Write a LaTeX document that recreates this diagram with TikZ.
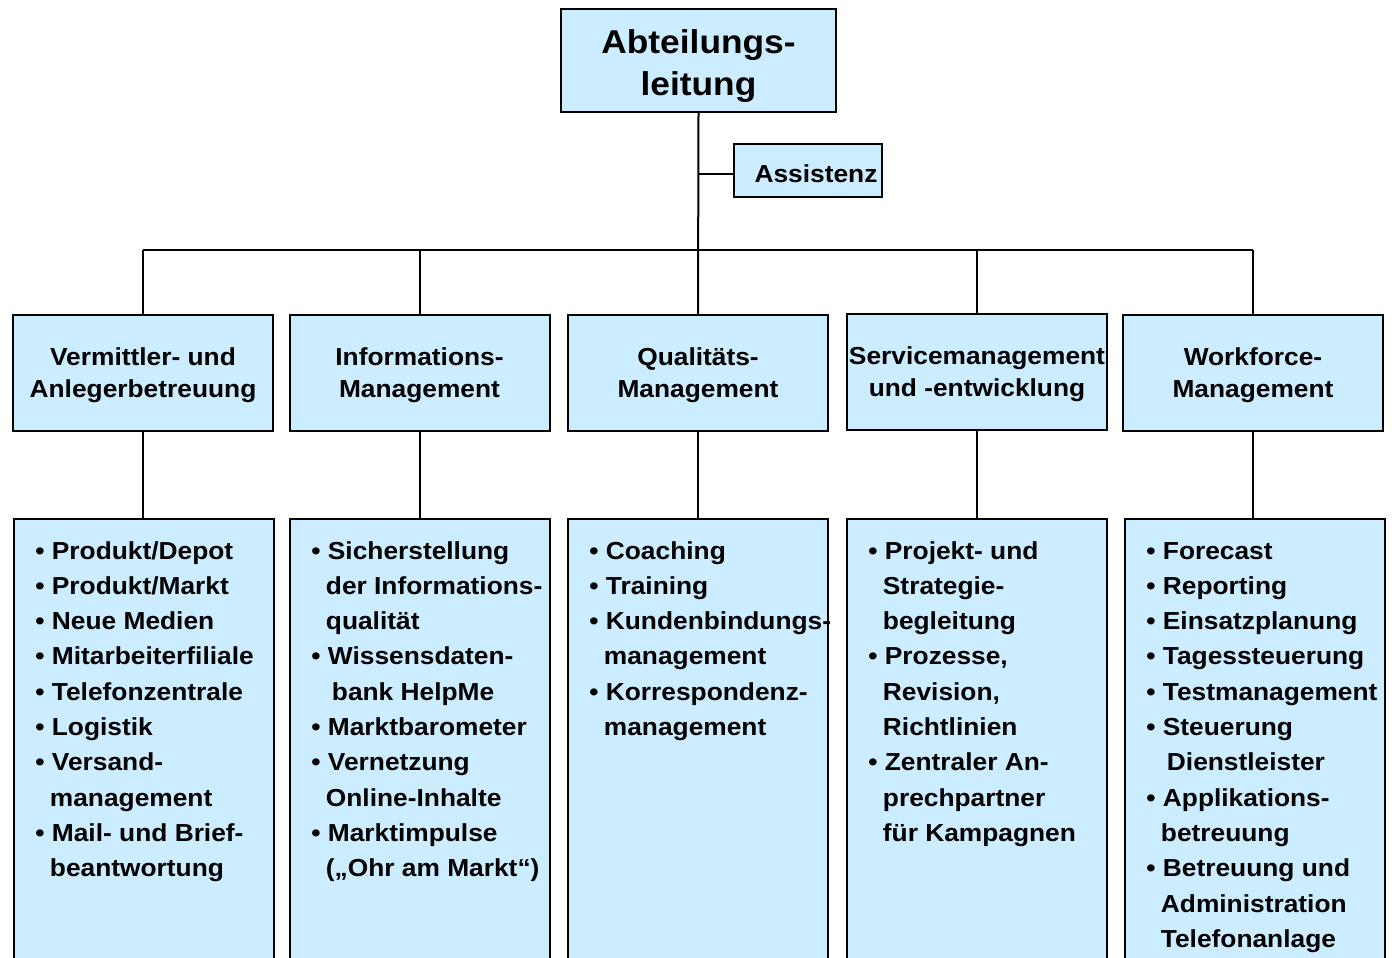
\documentclass[tikz,border=0pt]{standalone}
\usepackage{fontspec}
\setmainfont{Liberation Sans}[FakeStretch=1.07]
\definecolor{boxblue}{RGB}{204,236,255}
\newcommand\bl{•\ }
\newcommand\ct{\hphantom{•\ }\kern-1pt}
\newcommand\cts{\hphantom{•\ }\kern2pt}
\newcommand\detaillines[3]{%
  \foreach \itm [count=\i] in {#3}{%
    \node[itemline] (#1-\i) at ({#2},{559+35.3*(\i-1)}) {\itm};
  }%
}
\begin{document}
\begin{tikzpicture}[x=0.5pt,y=-0.5pt,
  box/.style={draw=black, line width=1pt, fill=boxblue, inner sep=0pt},
  headfont/.style={font=\bfseries\fontsize{12.3}{16}\selectfont, align=center, inner sep=0pt},
  topfont/.style={font=\bfseries\fontsize{16.5}{21}\selectfont, align=center, inner sep=0pt},
  headbox/.style={box, minimum width=130pt, minimum height=58pt},
  detbox/.style={box, minimum width=130pt, minimum height=230.5pt},
  conn/.style={line width=1pt, draw=black},
  itemline/.style={inner sep=0pt, anchor=base west,
    font=\bfseries\fontsize{12.3}{14}\selectfont}]
\useasboundingbox (0,0) rectangle (1392,958);
\clip (0,0) rectangle (1392,958);

% top and assistant
\node[box, minimum width=137.5pt, minimum height=51.5pt] (top) at (698.5,60.5) {};
\node[topfont] (toptext) at (698.5,66) {Abteilungs-\\leitung};
\node[box, minimum width=74pt, minimum height=26.5pt] (assist) at (808,170.5) {};
\node[headfont] (assisttext) at (816,174) {Assistenz};

% headers
\node[headbox] (h1) at (143,373) {};
\node[headbox] (h2) at (419.5,373) {};
\node[headbox] (h3) at (698,373) {};
\node[headbox] (h4) at (977,371.5) {};
\node[headbox] (h5) at (1253,373) {};
\node[headfont] (h1t) at (143,375.5) {Vermittler- und\\Anlegerbetreuung};
\node[headfont] (h2t) at (419.5,375.5) {Informations-\\Management};
\node[headfont] (h3t) at (698,375.5) {Qualitäts-\\Management};
\node[headfont] (h4t) at (977,374) {Servicemanagement\\und -entwicklung};
\node[headfont] (h5t) at (1253,375.5) {Workforce-\\Management};

% detail boxes
\node[detbox] (d1) at (144,749.5) {};
\node[detbox] (d2) at (419.5,749.5) {};
\node[detbox] (d3) at (698,749.5) {};
\node[detbox] (d4) at (977,749.5) {};
\node[detbox] (d5) at (1254.5,749.5) {};

% connectors
\coordinate (bus) at (699,250);
\draw[conn] (h1.north |- bus) -- (h5.north |- bus);
\draw[conn] (top.south) -- (h3.north);
\draw[conn] (top.south |- assisttext) -- (assist.west |- assisttext);
\foreach \n in {1,2,4,5} \draw[conn] (h\n.north) -- (h\n.north |- bus);
\foreach \n in {1,...,5} \draw[conn] (h\n.south) -- (h\n.south |- d\n.north);

% detail texts
\detaillines{a}{35}{{\bl Produkt/Depot},{\bl Produkt/Markt},{\bl Neue Medien},{\bl Mitarbeiterfiliale},{\bl Telefonzentrale},{\bl Logistik},{\bl Versand-},{\ct management},{\bl Mail- und Brief-},{\ct beantwortung}}
\detaillines{b}{311}{{\bl Sicherstellung},{\ct der Informations-},{\ct qualität},{\bl Wissensdaten-},{\cts bank HelpMe},{\bl Marktbarometer},{\bl Vernetzung},{\ct Online-Inhalte},{\bl Marktimpulse},{\ct („Ohr am Markt“)}}
\detaillines{c}{589}{{\bl Coaching},{\bl Training},{\bl Kundenbindungs-},{\ct management},{\bl Korrespondenz-},{\ct management}}
\detaillines{e}{868}{{\bl Projekt- und},{\ct Strategie-},{\ct begleitung},{\bl Prozesse,},{\ct Revision,},{\ct Richtlinien},{\bl Zentraler An-},{\ct prechpartner},{\ct für Kampagnen}}
\detaillines{f}{1146}{{\bl Forecast},{\bl Reporting},{\bl Einsatzplanung},{\bl Tagessteuerung},{\bl Testmanagement},{\bl Steuerung},{\cts Dienstleister},{\bl Applikations-},{\ct betreuung},{\bl Betreuung und},{\ct Administration},{\ct Telefonanlage}}
\end{tikzpicture}
\end{document}
